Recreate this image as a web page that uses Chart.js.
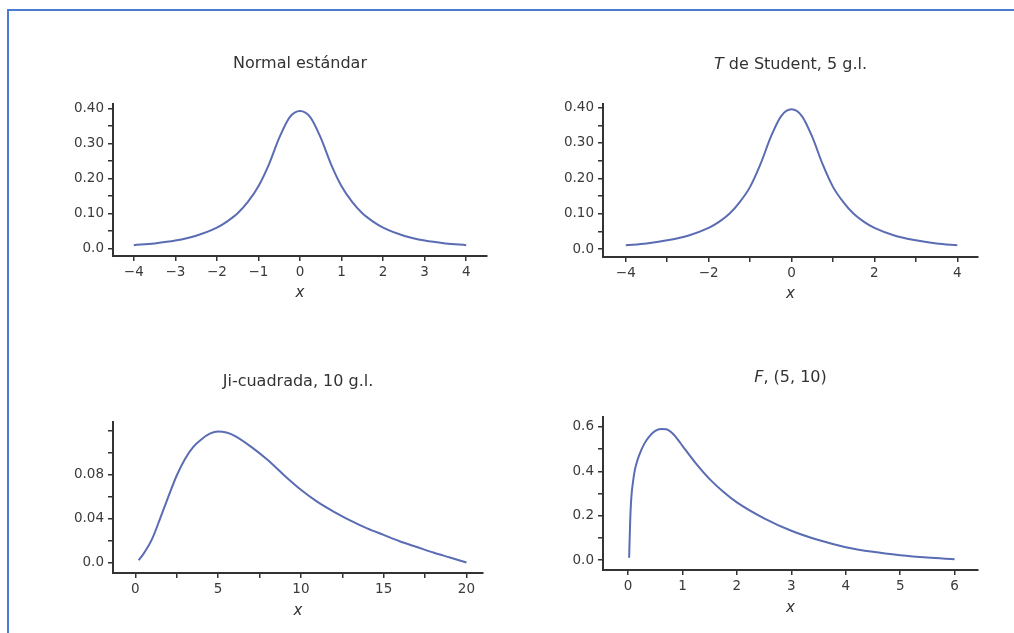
<!DOCTYPE html>
<html>
<head>
<meta charset="utf-8">
<script src="https://cdn.jsdelivr.net/npm/chart.js@4.4.1/dist/chart.umd.min.js"></script>
<style>
  body { margin: 0; background: #fff; width: 1014px; height: 633px; overflow: hidden; position: relative; }
  #frame { position: absolute; left: 7px; top: 9px; width: 1100px; height: 700px;
           border-left: 2px solid #4a7bd2; border-top: 2px solid #4a7bd2; }
  canvas { position: absolute; }
</style>
</head>
<body>
<div id="frame"></div>
<canvas id="normal" width="480" height="290" style="left:30px;top:30px"></canvas>
<canvas id="student" width="480" height="290" style="left:520px;top:30px"></canvas>
<canvas id="chi" width="480" height="290" style="left:30px;top:340px"></canvas>
<canvas id="fdist" width="480" height="290" style="left:520px;top:340px"></canvas>
<script>
// Normal estandar
var normX = [-4, -3.5, -3, -2.5, -2, -1.75, -1.5, -1.25, -1, -0.75, -0.5, -0.25, 0, 0.25, 0.5, 0.75, 1, 1.25, 1.5, 1.75, 2, 2.5, 3, 3.5, 4];
var normY = [0.010, 0.015, 0.023, 0.037, 0.060, 0.078, 0.101, 0.134, 0.178, 0.240, 0.316, 0.375, 0.393, 0.375, 0.316, 0.240, 0.178, 0.134, 0.101, 0.078, 0.060, 0.037, 0.023, 0.015, 0.010];
var normXTicks = [-4, -3, -2, -1, 0, 1, 2, 3, 4];
var normXLabels = ['\u22124', '\u22123', '\u22122', '\u22121', '0', '1', '2', '3', '4'];
var normYTicks = [0, 0.05, 0.10, 0.15, 0.20, 0.25, 0.30, 0.35, 0.40];
var normYLabels = ['0.0', '', '0.10', '', '0.20', '', '0.30', '', '0.40'];

// T de Student, 5 g.l.
var tX = [-4, -3.5, -3, -2.5, -2, -1.75, -1.5, -1.25, -1, -0.75, -0.5, -0.25, 0, 0.25, 0.5, 0.75, 1, 1.25, 1.5, 1.75, 2, 2.5, 3, 3.5, 4];
var tY = [0.011, 0.016, 0.025, 0.038, 0.060, 0.077, 0.100, 0.133, 0.176, 0.240, 0.317, 0.376, 0.395, 0.376, 0.317, 0.240, 0.176, 0.133, 0.100, 0.077, 0.060, 0.038, 0.025, 0.016, 0.011];
var tXTicks = [-4, -3, -2, -1, 0, 1, 2, 3, 4];
var tXLabels = ['\u22124', '', '\u22122', '', '0', '', '2', '', '4'];
var tYTicks = [0, 0.05, 0.10, 0.15, 0.20, 0.25, 0.30, 0.35, 0.40];
var tYLabels = ['0.0', '', '0.10', '', '0.20', '', '0.30', '', '0.40'];

// Ji-cuadrada, 10 g.l.
var chiX = [0.2, 0.5, 1, 1.5, 2, 2.5, 3, 3.5, 4, 4.5, 5, 5.5, 6, 7, 8, 9, 10, 11, 12, 13, 14, 15, 16, 17, 18, 19, 20];
var chiY = [0.002, 0.008, 0.021, 0.040, 0.060, 0.079, 0.094, 0.105, 0.112, 0.117, 0.119, 0.118, 0.115, 0.105, 0.093, 0.079, 0.066, 0.055, 0.046, 0.038, 0.031, 0.025, 0.019, 0.014, 0.009, 0.0045, 0.0];
var chiXTicks = [0, 2.5, 5, 7.5, 10, 12.5, 15, 17.5, 20];
var chiXLabels = ['0', '', '5', '', '10', '', '15', '', '20'];
var chiYTicks = [0, 0.02, 0.04, 0.06, 0.08, 0.10, 0.12];
var chiYLabels = ['0.0', '', '0.04', '', '0.08', '', ''];

// F, (5, 10)
var fX = [0.02, 0.04, 0.06, 0.09, 0.12, 0.16, 0.2, 0.3, 0.4, 0.5, 0.6, 0.7, 0.8, 0.9, 1, 1.25, 1.5, 1.75, 2, 2.5, 3, 3.5, 4, 4.5, 5, 5.5, 6];
var fY = [0.01, 0.18, 0.28, 0.35, 0.40, 0.44, 0.47, 0.525, 0.56, 0.582, 0.591, 0.590, 0.575, 0.548, 0.515, 0.435, 0.365, 0.308, 0.26, 0.188, 0.132, 0.09, 0.058, 0.037, 0.022, 0.011, 0.003];
var fXTicks = [0, 1, 2, 3, 4, 5, 6];
var fXLabels = ['0', '1', '2', '3', '4', '5', '6'];
var fYTicks = [0, 0.1, 0.2, 0.3, 0.4, 0.5, 0.6];
var fYLabels = ['0.0', '', '0.2', '', '0.4', '', '0.6'];

var FONT = "'DejaVu Sans', sans-serif";
var INK = '#333';
var CURVE = '#5a6cb3';

// draws the panel title, with some parts in italics
var panelTitle = {
    id: 'panelTitle',
    afterDraw: function(chart, args, opts) {
        var ctx = chart.ctx;
        var parts = opts.parts;
        ctx.save();
        ctx.fillStyle = INK;
        ctx.textBaseline = 'middle';
        var w = 0;
        parts.forEach(function(p) {
            ctx.font = (p.italic ? 'italic ' : '') + '16px ' + FONT;
            w += ctx.measureText(p.text).width;
        });
        var x = (chart.chartArea.left + chart.chartArea.right) / 2 - w / 2;
        parts.forEach(function(p) {
            ctx.font = (p.italic ? 'italic ' : '') + '16px ' + FONT;
            ctx.fillText(p.text, x, opts.y);
            x += ctx.measureText(p.text).width;
        });
        ctx.restore();
    }
};

function axis(min, max, ticks, labels, fixed, horizontal, extra) {
    var a = {
        type: 'linear',
        min: min,
        max: max,
        grid: { drawOnChartArea: false, drawTicks: true, tickLength: 5, color: INK, lineWidth: 1.5 },
        border: { display: true, color: INK, width: 2 },
        ticks: {
            autoSkip: false,
            maxRotation: 0,
            padding: horizontal ? 3 : 4,
            color: '#3a3a3a',
            font: { family: FONT, size: 13.5 },
            callback: function(v, i) { return labels[i]; }
        },
        afterBuildTicks: function(scale) {
            scale.ticks = ticks.map(function(v) { return { value: v }; });
        },
        afterFit: function(scale) {
            if (horizontal) scale.height = fixed; else scale.width = fixed;
        }
    };
    if (extra) a.title = extra;
    return a;
}

function makeChart(id, xs, ys, xAxis, yAxis, padTop, padRight, titleParts, titleY) {
    var pts = xs.map(function(x, i) { return { x: x, y: ys[i] }; });
    return new Chart(document.getElementById(id), {
        type: 'line',
        data: {
            datasets: [{
                data: pts,
                borderColor: CURVE,
                borderWidth: 2,
                pointRadius: 0,
                fill: false,
                cubicInterpolationMode: 'monotone'
            }]
        },
        options: {
            responsive: false,
            animation: false,
            layout: { padding: { top: padTop, right: padRight, left: 0, bottom: 0 } },
            plugins: {
                legend: { display: false },
                tooltip: { enabled: false },
                panelTitle: { parts: titleParts, y: titleY }
            },
            scales: { x: xAxis, y: yAxis }
        },
        plugins: [panelTitle]
    });
}

function xTitle(pad) {
    return { display: true, text: 'x', color: INK,
             font: { family: FONT, size: 15, style: 'italic' },
             padding: { top: 0, bottom: pad } };
}

makeChart('normal', normX, normY,
    axis(-4.5, 4.5, normXTicks, normXLabels, 64, true, xTitle(18)),
    axis(-0.021, 0.413, normYTicks, normYLabels, 83, false),
    74, 23, [{ text: 'Normal estándar' }], 34);

makeChart('student', tX, tY,
    axis(-4.55, 4.5, tXTicks, tXLabels, 63, true, xTitle(17)),
    axis(-0.022, 0.41, tYTicks, tYLabels, 83, false),
    74, 22, [{ text: 'T', italic: true }, { text: ' de Student, 5 g.l.' }], 35);

makeChart('chi', chiX, chiY,
    axis(-1.35, 21.0, chiXTicks, chiXLabels, 57, true, xTitle(10)),
    axis(-0.0096, 0.1276, chiYTicks, chiYLabels, 83, false),
    82, 27, [{ text: 'Ji-cuadrada, 10 g.l.' }], 42);

makeChart('fdist', fX, fY,
    axis(-0.46, 6.43, fXTicks, fXLabels, 60, true, xTitle(13)),
    axis(-0.045, 0.645, fYTicks, fYLabels, 83, false),
    77, 22, [{ text: 'F', italic: true }, { text: ', (5, 10)' }], 38);
</script>
</body>
</html>
